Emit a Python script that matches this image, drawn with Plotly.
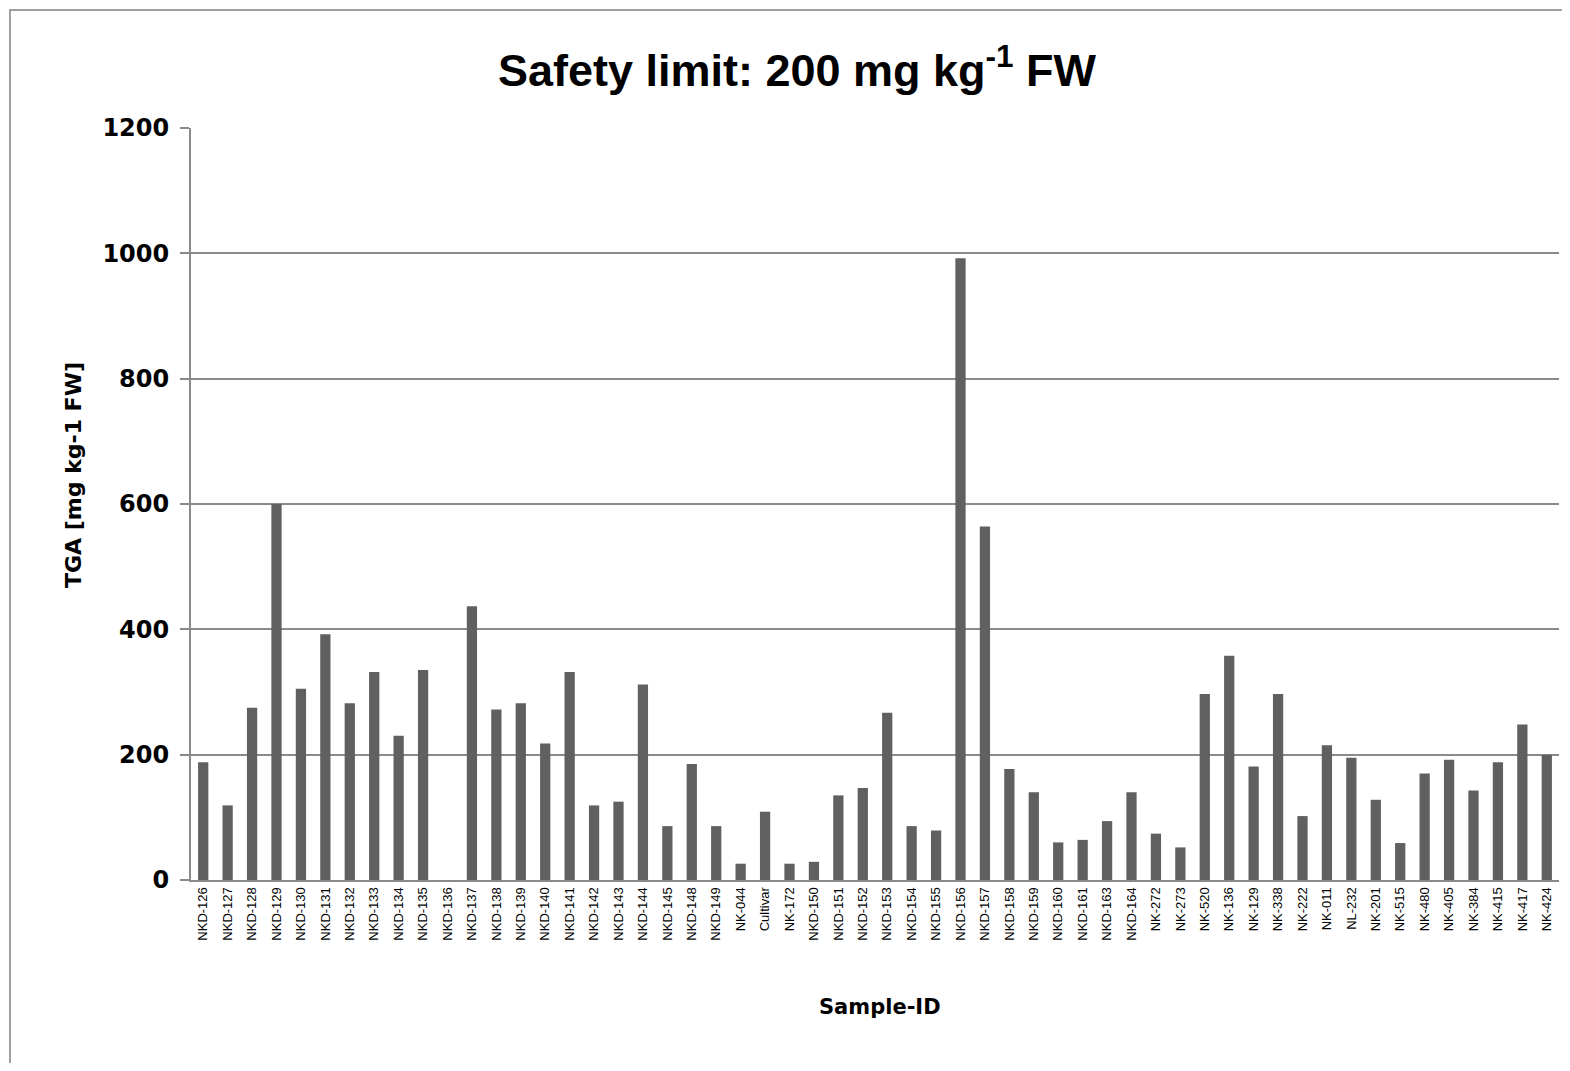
import plotly.graph_objects as go

samples = ["NKD-126", "NKD-127", "NKD-128", "NKD-129", "NKD-130", "NKD-131", "NKD-132",
           "NKD-133", "NKD-134", "NKD-135", "NKD-136", "NKD-137", "NKD-138", "NKD-139",
           "NKD-140", "NKD-141", "NKD-142", "NKD-143", "NKD-144", "NKD-145", "NKD-148",
           "NKD-149", "NK-044", "Cultivar", "NK-172", "NKD-150", "NKD-151", "NKD-152",
           "NKD-153", "NKD-154", "NKD-155", "NKD-156", "NKD-157", "NKD-158", "NKD-159",
           "NKD-160", "NKD-161", "NKD-163", "NKD-164", "NK-272", "NK-273", "NK-520",
           "NK-136", "NK-129", "NK-338", "NK-222", "NK-011", "NL-232", "NK-201", "NK-515",
           "NK-480", "NK-405", "NK-384", "NK-415", "NK-417", "NK-424"]
tga = [188, 119, 275, 600, 305, 392, 282, 332, 230, 335, 0, 437, 272, 282,
       218, 332, 119, 125, 312, 86, 185, 86, 26, 109, 26, 29, 135, 147,
       267, 86, 79, 992, 564, 177, 140, 60, 64, 94, 140, 74, 52, 297,
       358, 181, 297, 102, 215, 195, 128, 59, 170, 192, 143, 188, 248, 200]
y_ticks = [0, 200, 400, 600, 800, 1000, 1200]

# page has an 8px body margin; work in page coordinates and convert
O = 8
W, H = 1570 - 2 * O, 1071 - 2 * O
L = 191 - O
T = 128 - O
R = W - (1559 - O)
B = H - (880 - O)
pw, ph = W - L - R, H - T - B

def px(x):
    return (x - O - L) / pw

def py(y):
    return (H - B - (y - O)) / ph

grid = "#8a8a8a"
fig = go.Figure(go.Bar(x=samples, y=tga, marker=dict(color="#606060", line=dict(width=0)),
                       width=0.42))

fig.update_layout(
    width=W, height=H, margin=dict(l=L, r=R, t=T, b=B),
    paper_bgcolor="white", plot_bgcolor="white", showlegend=False,
    title=dict(text="Safety limit: 200 mg kg<sup>-1</sup> FW", x=(797 - O) / W, xanchor="center",
               y=1 - (70 - O) / H, yanchor="middle",
               font=dict(family="Liberation Sans", size=45, color="black", weight="bold")),
)
fig.update_xaxes(type="category", range=[-0.5, len(samples) - 0.5], tickangle=-90,
                 tickfont=dict(family="Liberation Sans", size=13, color="black"),
                 showline=True, linecolor=grid, linewidth=2, ticks="", showgrid=False)
fig.update_yaxes(range=[0, 1200], tickvals=y_ticks, ticks="outside", ticklen=9, tickcolor=grid,
                 tickwidth=2, showline=True, linecolor=grid, linewidth=2,
                 showgrid=True, gridcolor=grid, gridwidth=2, zeroline=False,
                 ticklabelstandoff=6,
                 tickfont=dict(family="DejaVu Sans", size=24, color="black", weight="bold"))

fig.add_annotation(text="Sample-ID", xref="paper", yref="paper", x=px(880), y=py(1007),
                   showarrow=False, xanchor="center", yanchor="middle",
                   font=dict(family="DejaVu Sans", size=21, color="black", weight="bold"))
fig.add_annotation(text="TGA [mg kg-1 FW]", xref="paper", yref="paper", x=px(73), y=py(475),
                   showarrow=False, xanchor="center", yanchor="middle", textangle=-90,
                   font=dict(family="DejaVu Sans", size=22, color="black", weight="bold"))
fig.add_shape(type="rect", xref="paper", yref="paper", x0=px(10), x1=px(1600), y0=py(1100),
              y1=py(10), line=dict(color="#a0a0a0", width=2), layer="below")

fig.write_html("out.html")
